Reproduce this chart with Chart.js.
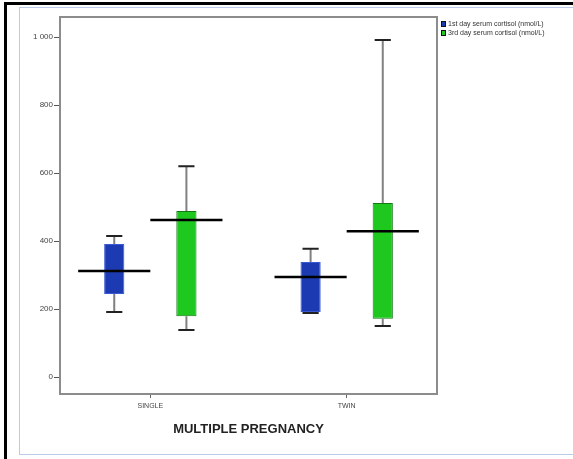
<!DOCTYPE html>
<html>
<head>
<meta charset="utf-8">
<script src="https://cdn.jsdelivr.net/npm/chart.js@4.4.0/dist/chart.umd.min.js"></script>
<style>
  html, body { margin: 0; padding: 0; background: #fff; overflow: hidden; }
  #wrap { position: relative; width: 573px; height: 459px; }
  #outer { position: absolute; left: 4px; top: 2px; width: 580px; height: 470px;
           border-left: 3px solid #000; border-top: 3px solid #000; }
  #inner { position: absolute; left: 19px; top: 7px; width: 600px; height: 446px;
           border: 1px solid #b9cbe6; }
  #legend { position: absolute; left: 441px; top: 19px; font: 7px Arial, "Liberation Sans", sans-serif; color: #333; }
  #legend div { height: 9px; line-height: 9px; white-space: nowrap; }
  #legend span { display: inline-block; width: 5px; height: 6px; margin-right: 2px; vertical-align: -1px; border: 1px solid #111; box-sizing: border-box; }
  canvas { position: absolute; left: 0; top: 0; }
</style>
</head>
<body>
<div id="wrap">
  <div id="outer"></div>
  <div id="inner"></div>
  <canvas id="myChart" width="573" height="459"></canvas>
  <div id="legend"></div>
</div>
<script>
// categories and series
const categories = ['SINGLE', 'TWIN'];
const seriesNames = ['1st day serum cortisol (nmol/L)', '3rd day serum cortisol (nmol/L)'];
const yTickLabels = ['0', '200', '400', '600', '800', '1 000'];

// 1st day
const day1Min = [191, 188];
const day1Q1 = [244, 191];
const day1Q3 = [391, 338];
const day1Max = [415, 377];
const day1Mean = [312, 294];

// 3rd day
const day3Min = [138, 150];
const day3Q1 = [179, 171];
const day3Q3 = [488, 512];
const day3Max = [620, 991];
const day3Mean = [462, 429];

const colors = ['#1c3bb2', '#1fc81f'];
const borders = ['#3a58d0', '#137a13'];

function boxData(q1, q3) {
  return categories.map((c, i) => ({ x: i, y: [q1[i], q3[i]] }));
}

const extras = [
  { q1: day1Q1, q3: day1Q3, min: day1Min, max: day1Max, mean: day1Mean },
  { q1: day3Q1, q3: day3Q3, min: day3Min, max: day3Max, mean: day3Mean }
];

const barPct = 0.28;

// whiskers + mean lines, placed with the chart scales
const boxPlugin = {
  id: 'boxExtras',
  afterDatasetsDraw(chart) {
    const ctx = chart.ctx;
    const y = chart.scales.y;
    ctx.save();
    extras.forEach((ex, d) => {
      const meta = chart.getDatasetMeta(d);
      meta.data.forEach((el, i) => {
        const x = el.x, w = el.width;
        const q1 = y.getPixelForValue(ex.q1[i]);
        const q3 = y.getPixelForValue(ex.q3[i]);
        const lo = y.getPixelForValue(ex.min[i]);
        const hi = y.getPixelForValue(ex.max[i]);
        ctx.strokeStyle = '#808080';
        ctx.lineWidth = 2;
        ctx.beginPath();
        ctx.moveTo(x, hi); ctx.lineTo(x, q3);
        ctx.moveTo(x, q1); ctx.lineTo(x, lo);
        ctx.stroke();
        ctx.strokeStyle = '#222';
        ctx.lineWidth = 2;
        ctx.beginPath();
        ctx.moveTo(x - w * 0.4, hi); ctx.lineTo(x + w * 0.4, hi);
        ctx.moveTo(x - w * 0.4, lo); ctx.lineTo(x + w * 0.4, lo);
        ctx.stroke();
        const slot = w / barPct;
        const m = y.getPixelForValue(ex.mean[i]);
        ctx.strokeStyle = '#000';
        ctx.lineWidth = 2.5;
        ctx.beginPath();
        ctx.moveTo(x - slot / 2, m); ctx.lineTo(x + slot / 2, m);
        ctx.stroke();
      });
    });
    // frame
    const a = chart.chartArea;
    ctx.strokeStyle = '#8c8c8c';
    ctx.lineWidth = 2;
    ctx.strokeRect(a.left, a.top, a.right - a.left, a.bottom - a.top);
    ctx.restore();
  }
};

var ctx = document.getElementById('myChart').getContext('2d');
var myChart = new Chart(ctx, {
  type: 'bar',
  plugins: [boxPlugin],
  data: {
    datasets: [
      {
        label: seriesNames[0],
        data: boxData(day1Q1, day1Q3),
        backgroundColor: colors[0],
        borderColor: borders[0],
        borderWidth: 1,
        borderSkipped: false,
        barPercentage: barPct,
        categoryPercentage: 0.735
      },
      {
        label: seriesNames[1],
        data: boxData(day3Q1, day3Q3),
        backgroundColor: colors[1],
        borderColor: borders[1],
        borderWidth: 1,
        borderSkipped: false,
        barPercentage: barPct,
        categoryPercentage: 0.735
      }
    ]
  },
  options: {
    responsive: false,
    animation: false,
    layout: { padding: { left: 0, top: 17, right: 136, bottom: 0 } },
    plugins: {
      legend: { display: false },
      tooltip: { enabled: false }
    },
    scales: {
      x: {
        type: 'linear',
        min: -0.46,
        max: 1.46,
        offset: false,
        border: { display: false },
        grid: { drawOnChartArea: false, offset: false, tickLength: 4, color: '#666', lineWidth: 1 },
        ticks: {
          stepSize: 1,
          includeBounds: false,
          maxRotation: 0,
          padding: 4,
          color: '#444',
          font: { family: 'Arial', size: 7 },
          callback: v => categories[v] ?? ''
        },
        title: {
          display: true,
          text: 'MULTIPLE PREGNANCY',
          color: '#222',
          font: { family: 'Arial', size: 13, weight: 'bold' },
          padding: { top: 0, bottom: 22 }
        },
        afterFit: s => { s.height = 65; }
      },
      y: {
        min: -50,
        max: 1059,
        border: { display: false },
        grid: { drawOnChartArea: false, tickLength: 6, color: '#555', lineWidth: 1 },
        ticks: {
          stepSize: 200,
          includeBounds: false,
          padding: 1,
          color: '#444',
          font: { family: 'Arial', size: 8 },
          callback: v => yTickLabels[v / 200] ?? ''
        },
        afterFit: s => { s.width = 60; }
      }
    }
  }
});

// legend from the dataset names
const lg = document.getElementById('legend');
seriesNames.forEach((n, i) => {
  const row = document.createElement('div');
  row.innerHTML = '<span style="background:' + colors[i] + '"></span>' + n;
  lg.appendChild(row);
});
</script>
</body>
</html>
